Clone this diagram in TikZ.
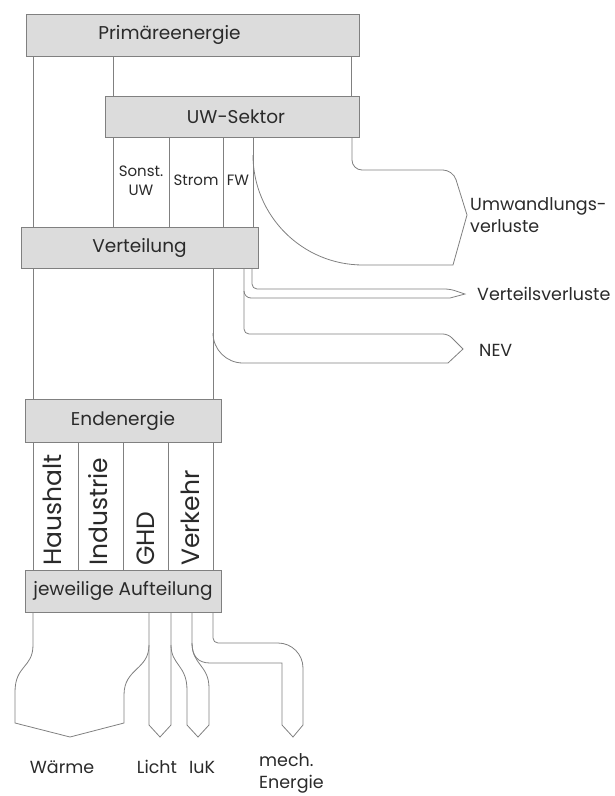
\documentclass[tikz,border=0pt]{standalone}
\usepackage{fontspec}
\setmainfont{Poppins}
\definecolor{boxgray}{HTML}{DCDCDC}
\definecolor{linegray}{HTML}{808080}
\definecolor{txtgray}{HTML}{2A2A2A}
\tikzset{
  stage/.style={draw=linegray, fill=boxgray, line width=0.9pt, inner sep=0pt,
    text=txtgray, font=\fontsize{18.5}{21}\selectfont},
  flow/.style={draw=linegray, line width=0.8pt},
  lbl/.style={text=txtgray, inner sep=0pt, font=\fontsize{17.5}{22}\selectfont},
  small/.style={lbl, font=\fontsize{15}{19}\selectfont},
  sector/.style={lbl, rotate=90, anchor=base west, font=\fontsize{25}{28}\selectfont},
}
\begin{document}
\begin{tikzpicture}[x=1pt,y=-1pt]
  \useasboundingbox (0,0) rectangle (614,796);

  % boxes
  \node[stage, minimum width=333pt, minimum height=42pt] (prim) at (192.5,35) {\hspace*{-46pt}Primäreenergie};
  \node[stage, minimum width=254pt, minimum height=41pt] (uw) at (232,116.5) {\hspace*{8pt}UW-Sektor};
  \node[stage, minimum width=237pt, minimum height=41pt] (vert) at (139.5,247.5) {Verteilung};
  \node[stage, minimum width=196pt, minimum height=43pt] (end) at (123,420.5) {Endenergie};
  \node[stage, minimum width=196pt, minimum height=42pt] (auft) at (123,591) {jeweilige Aufteilung};

  % primary energy
  \draw[flow] (33,0 |- prim.south) -- (33,0 |- vert.north);
  \foreach \x in {113,351}
    \draw[flow] (\x,0 |- prim.south) -- (\x,0 |- uw.north);

  % conversion sector
  \foreach \x in {113,169,223,253}
    \draw[flow] (\x,0 |- uw.south) -- (\x,0 |- vert.north);
  \node[small, align=center] (sonst) at (141,181) {Sonst.\\UW};
  \node[small] (strom) at (196,180) {Strom};
  \node[small] (fw) at (238,180) {FW};
  \draw[flow, rounded corners=10pt] (352,0 |- uw.south) -- (352,170) -- (453,170)
    [sharp corners] -- (467,215) -- (453,265) -- (363,265) arc[start angle=90, end angle=180, radius=110];
  \node[lbl, align=left, anchor=west] (uwv) at (470,215) {Umwandlungs-\\verluste};

  % distribution
  \foreach \x in {33,213}
    \draw[flow] (\x,0 |- vert.south) -- (\x,0 |- end.north);
  \draw[flow, rounded corners=5pt] (252,0 |- vert.south) -- (252,289) -- (450,289)
    [sharp corners] -- (465,294) -- (450,298) -- (251,298) arc[start angle=90, end angle=180, radius=7];
  \node[lbl, anchor=west] (vv) at (477,294) {Verteilsverluste};
  \draw[flow, rounded corners=5pt] (244,0 |- vert.south) -- (244,334) -- (448,334)
    [sharp corners] -- (463,349) -- (448,363) -- (243,363) arc[start angle=90, end angle=180, radius=30];
  \node[lbl, anchor=west] (nev) at (479,350) {NEV};

  % final energy by sector
  \foreach \x in {33,78,123,168,213}
    \draw[flow] (\x,0 |- end.south) -- (\x,0 |- auft.north);
  \node[sector] (haus) at (61,566) {Haushalt};
  \node[sector] (ind) at (107,566) {Industrie};
  \node[sector] (ghd) at (154,566) {GHD};
  \node[sector] (verk) at (199,566) {Verkehr};

  % useful energy
  \draw[flow] (149,0 |- auft.south) -- (149,725) -- (160,737) -- (171,725) -- (171,0 |- auft.south);
  \draw[flow] (33,0 |- auft.south) -- (33,645) .. controls (33,668) and (15,665) .. (15,692)
    -- (15,723) -- (70,737) -- (124,723) -- (124,695) .. controls (124,668) and (149,670) .. (149,645);
  \draw[flow] (171,645) .. controls (171,665) and (187,665) .. (187,690) -- (187,725) -- (198,737)
    -- (209,725) -- (209,688) .. controls (209,665) and (192,665) .. (192,643) -- (192,0 |- auft.south);
  \draw[flow] (192,643) .. controls (192,656) and (198,663) .. (210,663) -- (282,663) -- (282,725)
    -- (293,737) -- (303,725) -- (303,668) arc[start angle=0, end angle=-90, radius=25]
    [rounded corners=5pt] -- (213,643) -- (213,0 |- auft.south);
  \node[lbl] (waerme) at (62,767) {Wärme};
  \node[lbl] (licht) at (157,767) {Licht};
  \node[lbl] (iuk) at (202,767) {IuK};
  \node[lbl, align=left, anchor=west] (mech) at (259,773) {mech.\\Energie};
\end{tikzpicture}
\end{document}
